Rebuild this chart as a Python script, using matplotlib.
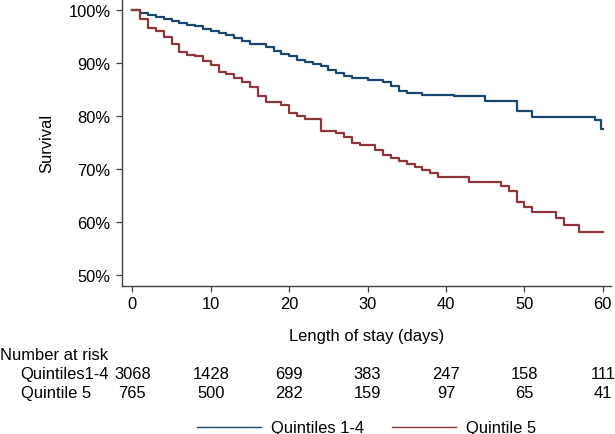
import matplotlib
matplotlib.use('Agg')
import matplotlib.pyplot as plt
import matplotlib.transforms as mtransforms
from matplotlib.lines import Line2D
from matplotlib.ticker import FuncFormatter

plt.rcParams['font.family'] = ['Liberation Sans', 'DejaVu Sans']

# Kaplan-Meier steps (day, survival % after the step)
q14_days = [0, 1, 2, 3, 4, 5, 6, 7, 8, 9, 10, 11, 12, 13, 14, 15, 17, 18, 19, 20,
            21, 22, 23, 24, 25, 26, 27, 28, 30, 32, 33, 34, 35, 37, 41, 45, 49, 51,
            59, 59.8, 60]
q14_surv = [100, 99.4, 99.05, 98.6, 98.3, 98.0, 97.55, 97.2, 96.9, 96.5, 96.0, 95.6,
            95.2, 94.7, 94.2, 93.6, 93.0, 92.2, 91.7, 91.3, 90.6, 90.1, 89.9, 89.5,
            88.7, 88.2, 87.6, 87.1, 86.8, 86.4, 85.7, 84.8, 84.3, 84.0, 83.7, 82.8,
            80.9, 79.8, 79.3, 77.6, 77.6]

q5_days = [0, 1, 2, 3, 4, 5, 6, 7, 8, 9, 10, 11, 12, 13, 14, 15, 16, 17, 19, 20,
           21, 22, 24, 26, 27, 28, 29, 31, 32, 33, 34, 35, 36, 37, 38, 39, 43, 47,
           48, 49, 50, 51, 54, 55, 57, 60]
q5_surv = [100, 98.3, 96.7, 96.0, 95.0, 93.6, 92.0, 91.5, 91.3, 90.3, 89.6, 88.3,
           87.9, 87.1, 86.4, 85.5, 83.7, 82.6, 82.0, 80.6, 80.0, 79.4, 77.1, 76.7,
           76.0, 75.0, 74.5, 73.5, 72.7, 72.0, 71.5, 71.0, 70.4, 69.8, 69.2, 68.4,
           67.6, 66.7, 65.8, 63.8, 62.8, 61.8, 60.7, 59.4, 58.2, 58.2]

# number at risk table
risk_days = [0, 10, 20, 30, 40, 50, 60]
risk_q14 = [3068, 1428, 699, 383, 247, 158, 111]
risk_q5 = [765, 500, 282, 159, 97, 65, 41]

navy = '#1a476f'
maroon = '#90353b'
axcol = '#404040'

fig = plt.figure(figsize=(6.15, 4.35), dpi=100)
ax = fig.add_axes([122 / 615, 1 - 286.7 / 435, 488.6 / 615, 286.7 / 435])

ax.step(q14_days, q14_surv, where='post', color=navy, lw=1.6)
ax.step(q5_days, q5_surv, where='post', color=maroon, lw=1.6)

ax.set_xlim(-1.33, 61)
ax.set_ylim(47.98, 102.08)
ax.set_xticks(risk_days)
ax.set_yticks([50, 60, 70, 80, 90, 100])
ax.yaxis.set_major_formatter(FuncFormatter(lambda v, p: f'{v:.0f}%'))

for s in ['top', 'right']:
    ax.spines[s].set_visible(False)
for s in ['left', 'bottom']:
    ax.spines[s].set_color(axcol)
    ax.spines[s].set_linewidth(1.0)
ax.tick_params(axis='both', colors=axcol, labelcolor='black', labelsize=11.9,
               length=4, width=0.9)
ax.tick_params(axis='y', pad=4.3)
ax.tick_params(axis='x', pad=3.6)

ax.set_ylabel('Survival', fontsize=11.9)
ax.yaxis.set_label_coords(-(122 - 47) / 488.6, 0.5)
ax.yaxis.label.set_va('center')
ax.set_xlabel('Length of stay (days)', fontsize=11.9, va='center')
ax.xaxis.set_label_coords(0.5, -(336.7 - 286.7) / 286.7)

# number at risk
trans = mtransforms.blended_transform_factory(ax.transData, fig.transFigure)
fig.text(0.0, 1 - 356 / 435, 'Number at risk', fontsize=11.9, va='center', ha='left')
fig.text(20.7 / 615, 1 - 375 / 435, 'Quintiles1-4', fontsize=11.9, va='center', ha='left')
fig.text(20.7 / 615, 1 - 394 / 435, 'Quintile 5', fontsize=11.9, va='center', ha='left')
for d, a, b in zip(risk_days, risk_q14, risk_q5):
    ax.text(d, 1 - 375 / 435, str(a), transform=trans, fontsize=11.9,
            ha='center', va='center', clip_on=False)
    ax.text(d, 1 - 394 / 435, str(b), transform=trans, fontsize=11.9,
            ha='center', va='center', clip_on=False)

handles = [Line2D([], [], color=navy, lw=1.0), Line2D([], [], color=maroon, lw=1.0)]
fig.legend(handles, ['Quintiles 1-4', 'Quintile 5'], loc='center',
           bbox_to_anchor=(366.5 / 615, 1 - 429 / 435), ncol=2, frameon=False,
           fontsize=11.9, handlelength=3.86, handletextpad=0.6, columnspacing=1.67,
           borderpad=0.0, borderaxespad=0.0)

fig.savefig('out.png', dpi=100)
